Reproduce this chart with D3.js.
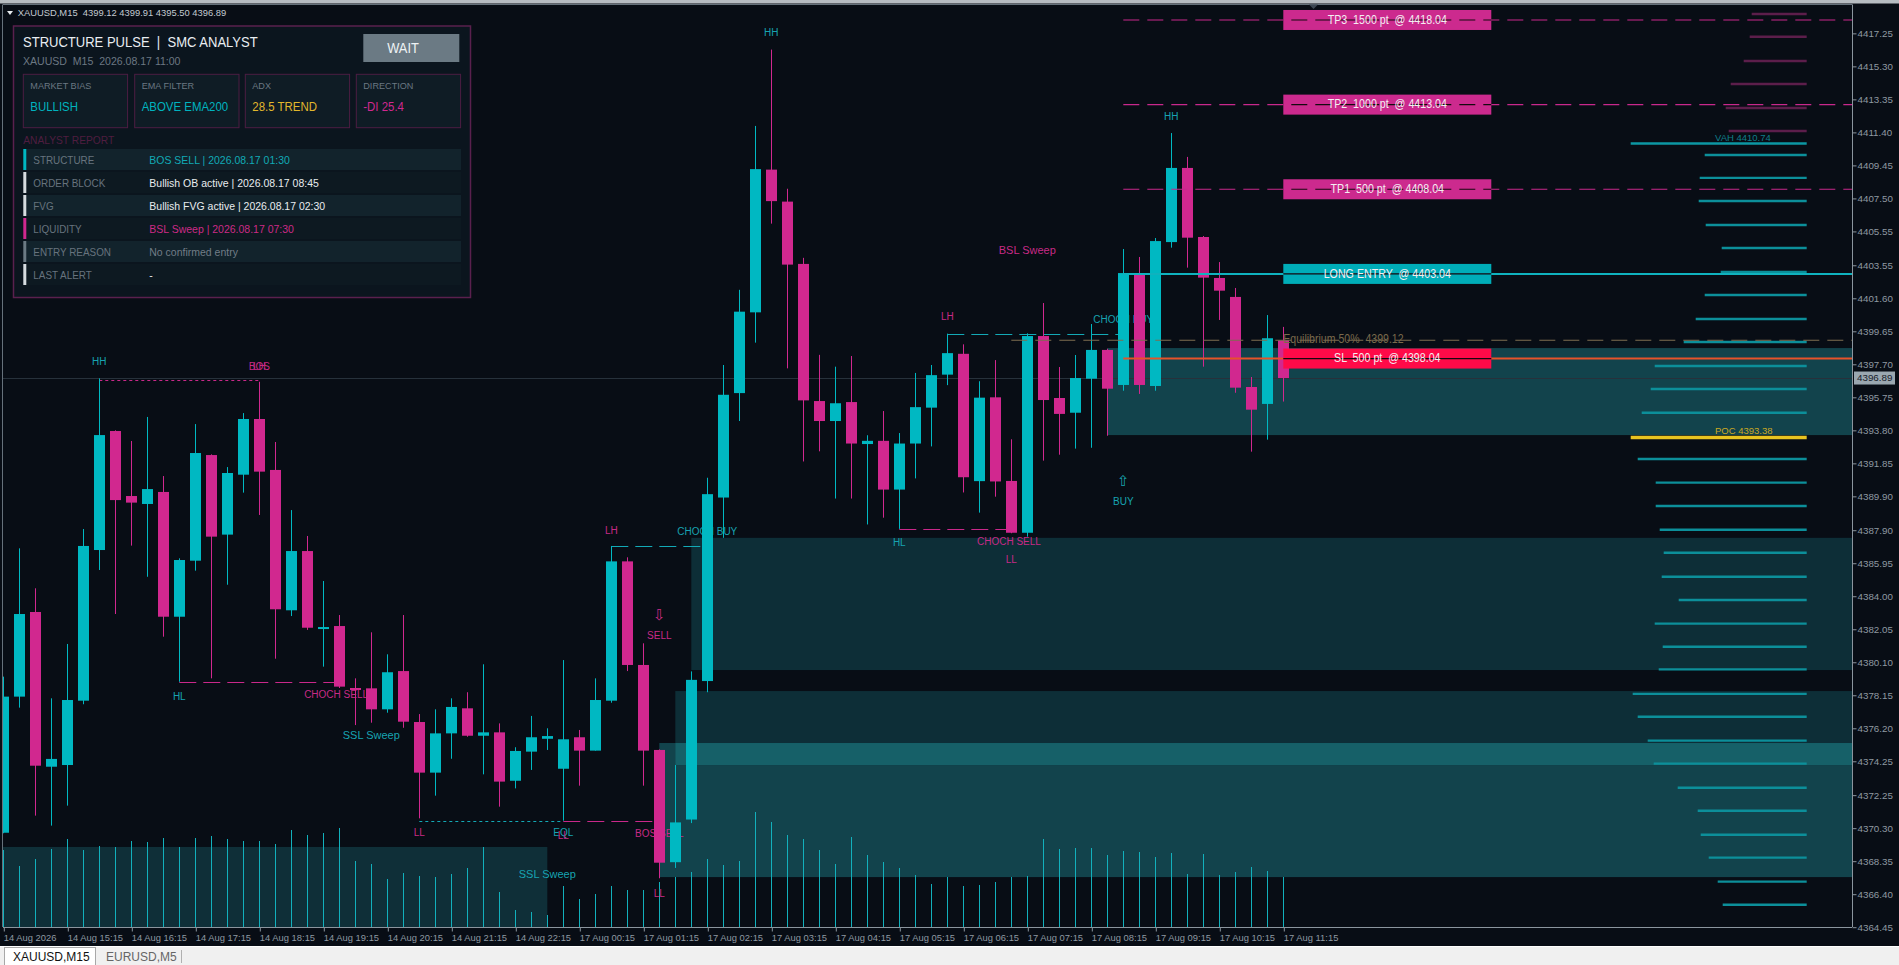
<!DOCTYPE html>
<html>
<head>
<meta charset="utf-8">
<script src="https://cdn.jsdelivr.net/npm/d3@7"></script>
<style>
html, body { margin: 0; padding: 0; background: #080d15; overflow: hidden; }
svg { display: block; font-family: "Liberation Sans", Arial, sans-serif; }
text { white-space: pre; }
</style>
</head>
<body>
<svg id="chart" width="1899" height="965" xml:space="preserve"></svg>
<script>

// candles, XAUUSD M15 (bar 0 = 14 Aug 14:15)
const opens = [4370.03,4378.07,4383.07,4373.93,4374.03,4377.83,4386.73,4393.76,4389.92,4389.45,
  4390.16,4382.79,4386.10,4392.34,4387.64,4391.18,4394.47,4391.46,4383.17,4386.67,
  4382.08,4382.24,4378.58,4378.56,4377.32,4379.58,4376.57,4373.58,4375.90,4377.38,
  4375.76,4375.96,4373.10,4374.82,4375.58,4373.81,4375.67,4374.88,4377.83,4386.06,
  4379.94,4374.92,4368.29,4370.81,4378.99,4389.83,4396.00,4400.77,4409.20,4407.31,
  4403.63,4395.53,4394.35,4395.47,4392.99,4393.18,4390.30,4393.02,4395.14,4397.09,
  4398.32,4390.80,4395.75,4390.81,4387.75,4399.37,4395.71,4394.84,4396.85,4398.55,
  4396.48,4403.09,4396.42,4404.92,4409.30,4405.22,4402.80,4401.68,4396.36,4395.36,4399.12];
const highs = [4379.25,4386.83,4384.47,4377.97,4381.18,4387.97,4396.87,4393.80,4393.17,4394.59,
  4391.10,4386.24,4394.17,4392.38,4391.63,4394.82,4396.67,4393.11,4389.09,4387.56,
  4384.90,4382.89,4379.15,4381.87,4380.57,4382.89,4377.04,4377.32,4377.97,4378.33,
  4379.98,4376.49,4375.08,4376.93,4376.20,4380.23,4376.10,4379.15,4386.97,4386.30,
  4381.22,4374.95,4374.03,4379.56,4391.00,4397.66,4402.10,4411.78,4416.29,4408.07,
  4403.99,4398.26,4397.56,4398.19,4393.51,4394.94,4393.64,4397.19,4397.66,4399.51,
  4398.88,4396.70,4397.95,4393.27,4399.53,4401.32,4397.54,4398.25,4400.08,4398.62,
  4404.51,4404.04,4405.16,4411.36,4409.95,4405.28,4403.74,4402.21,4396.95,4400.61,4399.91];
const lows = [4370.00,4377.42,4371.04,4370.45,4371.63,4377.62,4385.55,4382.95,4386.99,4385.15,
  4381.61,4378.95,4385.51,4379.15,4384.68,4390.12,4388.80,4380.31,4382.83,4382.01,
  4379.84,4378.58,4376.39,4376.53,4377.12,4376.23,4370.88,4372.22,4374.40,4375.70,
  4373.48,4371.57,4372.65,4373.74,4374.92,4370.74,4372.81,4374.88,4377.71,4379.58,
  4372.81,4367.34,4367.95,4370.60,4378.33,4387.45,4394.35,4398.98,4406.01,4397.46,
  4391.96,4392.56,4389.77,4389.77,4388.24,4388.64,4387.98,4390.96,4392.85,4396.47,
  4390.13,4388.94,4389.88,4387.72,4387.52,4392.01,4392.36,4392.72,4392.77,4393.48,
  4396.14,4395.95,4396.14,4404.59,4403.41,4397.56,4400.32,4396.02,4392.54,4393.25,4395.50];
const closes = [4378.07,4382.95,4373.99,4374.39,4377.87,4386.97,4393.52,4389.68,4389.53,4390.33,
  4382.79,4386.14,4392.46,4387.52,4391.28,4394.47,4391.36,4383.23,4386.67,4382.14,
  4382.18,4378.66,4378.55,4377.32,4379.51,4376.59,4373.58,4375.90,4377.46,4375.76,
  4375.96,4373.05,4374.86,4375.67,4375.74,4375.55,4374.88,4377.87,4386.06,4379.94,
  4374.88,4368.26,4370.64,4379.06,4390.03,4395.90,4400.81,4409.23,4407.34,4403.59,
  4395.57,4394.35,4395.40,4393.02,4393.18,4390.30,4393.02,4395.17,4397.06,4398.36,
  4391.03,4395.73,4390.78,4387.75,4399.37,4395.59,4394.77,4396.89,4398.55,4396.26,
  4403.09,4396.48,4404.98,4409.30,4405.18,4402.82,4402.05,4396.32,4395.02,4399.24,4396.89];
const tickVolume = [77,61,68,78,88,77,81,80,86,85,
  89,80,89,91,88,86,86,83,97,92,
  94,99,66,63,48,54,51,50,53,59,
  80,35,17,15,12,41,28,33,41,37,
  37,45,50,55,68,62,66,115,105,92,
  88,77,63,90,72,65,59,52,43,50,
  41,42,45,50,51,88,78,79,79,72,
  76,75,70,74,53,73,52,55,60,56,50];

// axes
const timeBars = [0,4,8,12,16,20,24,28,32,36,40,44,48,52,56,60,64,68,72,76,80];
const timeLabels = ["14 Aug 2026","14 Aug 15:15","14 Aug 16:15","14 Aug 17:15","14 Aug 18:15",
  "14 Aug 19:15","14 Aug 20:15","14 Aug 21:15","14 Aug 22:15","17 Aug 00:15","17 Aug 01:15",
  "17 Aug 02:15","17 Aug 03:15","17 Aug 04:15","17 Aug 05:15","17 Aug 06:15","17 Aug 07:15",
  "17 Aug 08:15","17 Aug 09:15","17 Aug 10:15","17 Aug 11:15"];
const priceTicks = [4417.25,4415.30,4413.35,4411.40,4409.45,4407.50,4405.55,4403.55,4401.60,4399.65,
  4397.70,4395.75,4393.80,4391.85,4389.90,4387.90,4385.95,4384.00,4382.05,4380.10,
  4378.15,4376.20,4374.25,4372.25,4370.30,4368.35,4366.40,4364.45];
const bidPrice = 4396.89;

// zones (order blocks / fvg / sweep box)
const zoneFrom = [0, 41, 42, 43, 69];
const zoneTo = [34, null, null, null, null];
const zoneHigh = [4369.19, 4375.33, 4378.40, 4387.45, 4398.66];
const zoneLow = [4363.00, 4367.41, 4374.03, 4379.64, 4393.52];
const zoneKind = ["ssl", "ob", "fvg", "fvg", "ob"];

// volume profile
const vpPrices = [4418.39,4417.05,4415.62,4414.26,4412.84,4411.48,4410.06,4408.71,4407.35,4405.93,
  4404.57,4403.15,4401.79,4400.38,4399.02,4397.60,4396.24,4394.84,4393.38,4392.11,
  4390.71,4389.33,4387.93,4386.57,4385.15,4383.78,4382.38,4381.02,4379.68,4378.23,
  4376.88,4375.47,4374.11,4372.69,4371.33,4369.91,4368.56,4367.14,4365.78];
const vpVolume = [55,57,63,76,81,78,102,107,108,101,
  85,86,102,111,123,152,156,165,176,169,
  151,151,147,143,145,128,152,144,148,174,
  169,159,153,129,109,106,98,89,84];
const vahPrice = 4410.74;
const pocPrice = 4393.38;

// structure lines
const lineFrom = [6, 11, 26, 35, 38, 56, 59];
const lineTo = [16, 21, 35, 41, 44, 63, 70];
const linePrice = [4396.76, 4378.95, 4370.74, 4370.70, 4386.97, 4387.98, 4399.51];
const lineKind = ["bearDot", "bearDash", "bullDot", "bearDash", "bullDash", "bearDash", "bullDash"];

// structure tags
const tagText = ["HH","LH","BOS","HL","CHOCH SELL","SSL Sweep","LL","EQL","LL","BOS SELL","LL","\u21E9","SELL",
  "LH","CHOCH BUY","SSL Sweep","HH","BSL Sweep","LH","HL","CHOCH SELL","LL","CHOCH BUY","HH","\u21E7","BUY"];
const tagBar = [6,16,16,11,20.8,23,26,35,35,41,41,41,41,38,44,34,48,64,59,56,62.85,63,70,73,70,70];
const tagPrice = [4397.84,4397.54,4397.54,4378.05,4378.17,4375.74,4370.01,4370.01,4369.83,4369.96,4366.41,4382.89,4381.65,
  4387.85,4387.80,4367.53,4417.27,4404.39,4400.49,4387.12,4387.20,4386.14,4400.32,4412.31,4390.75,4389.57];
const tagSide = ["bull","bear","bear","bull","bear","bull","bear","bull","bear","bear","bear","bear","bear",
  "bear","bull","bull","bull","bear","bear","bull","bear","bear","bull","bull","bull","bull"];

// trade levels
const tradeLabels = ["TP3  1500 pt  @ 4418.04", "TP2  1000 pt  @ 4413.04", "TP1  500 pt  @ 4408.04",
  "LONG ENTRY  @ 4403.04", "SL  500 pt  @ 4398.04"];
const tradePrices = [4418.04, 4413.04, 4408.04, 4403.04, 4398.04];
const tradeKind = ["tp", "tp", "tp", "entry", "sl"];
const tradeFromBar = 70;
const tradeBoxBar = 80;
const eqPrice = 4399.12;
const eqFromBar = 63;

// dashboard
const cardTitles = ["MARKET BIAS", "EMA FILTER", "ADX", "DIRECTION"];
const cardValues = ["BULLISH", "ABOVE EMA200", "28.5 TREND", "-DI 25.4"];
const reportLabels = ["STRUCTURE", "ORDER BLOCK", "FVG", "LIQUIDITY", "ENTRY REASON", "LAST ALERT"];
const reportValues = ["BOS SELL | 2026.08.17 01:30", "Bullish OB active | 2026.08.17 08:45",
  "Bullish FVG active | 2026.08.17 02:30", "BSL Sweep | 2026.08.17 07:30", "No confirmed entry", "-"];


const W = 1899, H = 965;
const plot = { left: 3, right: 1852, top: 5, bottom: 927 };
const BULL = "#00b8c2", BEAR = "#d1288f";

// the terminal font is narrower than Liberation Sans, squeeze text a bit
function squeeze(sel, sx) {
  sel.each(function () {
    const t = d3.select(this);
    const x0 = +t.attr("x") || 0, y0 = +t.attr("y") || 0;
    t.attr("x", 0).attr("y", 0).attr("transform", `translate(${x0},${y0}) scale(${sx},1)`);
  });
  return sel;
}

const svg = d3.select("#chart");
svg.append("rect").attr("width", W).attr("height", H).attr("fill", "#080d15");

const x = d3.scaleLinear().domain([0, 80]).range([3.3, 1283.3]);
const y = d3.scaleLinear().domain([4364.45, 4417.25]).range([927.2, 33.35]);
const volY = d3.scaleLinear().domain([0, 150]).range([plot.bottom, plot.bottom - 150]);
const vpRight = 1806.7;
const vpLen = d3.scaleLinear().domain([0, d3.max(vpVolume)]).range([0, 176]);

svg.append("defs").append("clipPath").attr("id", "plotClip")
  .append("rect").attr("x", plot.left).attr("y", plot.top)
  .attr("width", plot.right - plot.left).attr("height", plot.bottom - plot.top);

const g = svg.append("g").attr("clip-path", "url(#plotClip)");

// zones
const zoneFill = { ssl: "#0f2f38", ob: "#12434c", fvg: "#0d2e37" };
const zones = zoneFrom.map((f, i) => ({
  x0: i === 0 ? plot.left : x(f),
  x1: zoneTo[i] === null ? plot.right : x(zoneTo[i]),
  y0: y(zoneHigh[i]), y1: y(zoneLow[i]), kind: zoneKind[i]
}));
g.selectAll(".zone").data(zones).join("rect")
  .attr("x", d => d.x0).attr("y", d => d.y0)
  .attr("width", d => d.x1 - d.x0).attr("height", d => d.y1 - d.y0)
  .attr("fill", d => zoneFill[d.kind]);

// where two zones overlap the fill is brighter
const overlaps = [];
for (let i = 1; i < zones.length; i++) {
  for (let j = i + 1; j < zones.length; j++) {
    const a = zones[i], b = zones[j];
    const ox0 = Math.max(a.x0, b.x0), ox1 = Math.min(a.x1, b.x1);
    const oy0 = Math.max(a.y0, b.y0), oy1 = Math.min(a.y1, b.y1);
    if (ox1 > ox0 && oy1 > oy0) overlaps.push({ ox0, ox1, oy0, oy1 });
  }
}
g.selectAll(".overlap").data(overlaps).join("rect")
  .attr("x", d => d.ox0).attr("y", d => d.oy0)
  .attr("width", d => d.ox1 - d.ox0).attr("height", d => d.oy1 - d.oy0)
  .attr("fill", "#166068");

// bid line
g.append("line").attr("x1", plot.left).attr("x2", plot.right)
  .attr("y1", Math.round(y(bidPrice)) + 0.5).attr("y2", Math.round(y(bidPrice)) + 0.5)
  .attr("stroke", "#27313b");

// tick volume
g.selectAll(".vol").data(tickVolume).join("line")
  .attr("x1", (d, i) => Math.round(x(i)) + 0.5).attr("x2", (d, i) => Math.round(x(i)) + 0.5)
  .attr("y1", volY(0)).attr("y2", d => volY(d))
  .attr("stroke", "#12b0bc").attr("stroke-width", 1);

// volume profile
g.selectAll(".vp").data(vpVolume).join("line")
  .attr("x1", d => vpRight - vpLen(d)).attr("x2", vpRight)
  .attr("y1", (d, i) => y(vpPrices[i])).attr("y2", (d, i) => y(vpPrices[i]))
  .attr("stroke", (d, i) => vpPrices[i] === pocPrice ? "#e8c420" : (vpPrices[i] > vahPrice ? "#5c1e4b" : "#0c8f9a"))
  .attr("stroke-width", (d, i) => vpPrices[i] === pocPrice ? 3.5 : 2.4);
g.append("line").attr("x1", vpRight - vpLen(d3.max(vpVolume))).attr("x2", vpRight)
  .attr("y1", y(vahPrice)).attr("y2", y(vahPrice))
  .attr("stroke", "#0c97a3").attr("stroke-width", 2.4);
g.append("text").attr("x", 1715).attr("y", y(vahPrice) - 5)
  .attr("dominant-baseline", "middle").attr("font-size", 9.5).attr("fill", "#0f7e89")
  .text("VAH " + vahPrice.toFixed(2));
g.append("text").attr("x", 1715).attr("y", y(pocPrice) - 6)
  .attr("dominant-baseline", "middle").attr("font-size", 9.5).attr("fill", "#c9a824")
  .text("POC " + pocPrice.toFixed(2));

// structure lines
const dashes = { bearDot: "3,3", bullDot: "3,3", bearDash: "17,7", bullDash: "17,7" };
g.selectAll(".sline").data(linePrice).join("line")
  .attr("x1", (d, i) => x(lineFrom[i])).attr("x2", (d, i) => x(lineTo[i]))
  .attr("y1", d => Math.round(y(d)) + 0.5).attr("y2", d => Math.round(y(d)) + 0.5)
  .attr("stroke", (d, i) => lineKind[i].startsWith("bull") ? "#13a9b6" : "#c9288a")
  .attr("stroke-dasharray", (d, i) => dashes[lineKind[i]]);

// structure tags (candles are painted over them)
const isArrow = t => t === "\u21E9" || t === "\u21E7";
g.selectAll(".tag").data(tagText).join("text")
  .attr("x", (d, i) => x(tagBar[i])).attr("y", (d, i) => y(tagPrice[i]))
  .attr("text-anchor", "middle").attr("dominant-baseline", "middle")
  .attr("font-family", d => isArrow(d) ? "DejaVu Sans, sans-serif" : null)
  .attr("font-size", d => isArrow(d) ? 15 : (d.includes("Sweep") ? 11 : 10))
  .attr("fill", (d, i) => tagSide[i] === "bull" ? "#17a3b1" : "#c72a86")
  .text(d => d);

// candles
const bars = opens.map((o, i) => ({ i, o, h: highs[i], l: lows[i], c: closes[i] }));
const cg = g.append("g");
cg.selectAll(".wick").data(bars).join("line")
  .attr("x1", d => Math.round(x(d.i)) + 0.5).attr("x2", d => Math.round(x(d.i)) + 0.5)
  .attr("y1", d => y(d.h)).attr("y2", d => y(d.l))
  .attr("stroke", d => d.c > d.o ? BULL : BEAR);
cg.selectAll(".body").data(bars).join("rect")
  .attr("x", d => Math.round(x(d.i)) - 5).attr("width", 11)
  .attr("y", d => y(Math.max(d.o, d.c)))
  .attr("height", d => Math.max(2, Math.abs(y(d.o) - y(d.c))))
  .attr("fill", d => d.c > d.o ? BULL : BEAR);

// equilibrium
g.append("line").attr("x1", x(eqFromBar)).attr("x2", plot.right)
  .attr("y1", y(eqPrice)).attr("y2", y(eqPrice))
  .attr("stroke", "#7d6d50").attr("stroke-width", 1.2).attr("stroke-dasharray", "16,8");
squeeze(g.append("text").attr("x", x(tradeBoxBar)).attr("y", y(eqPrice))
  .attr("dominant-baseline", "middle").attr("font-size", 12).attr("fill", "#7a6a4c")
  .text("Equilibrium 50%  " + eqPrice.toFixed(2)), 0.88);

// trade levels
const levelColor = { tp: "#c8288c", entry: "#0fb2be", sl: "#e5532a" };
const boxColor = { tp: "#cc2a8e", entry: "#00adb8", sl: "#ff0a48" };
g.selectAll(".lvl").data(tradePrices).join("line")
  .attr("x1", x(tradeFromBar)).attr("x2", plot.right)
  .attr("y1", d => y(d)).attr("y2", d => y(d))
  .attr("stroke", (d, i) => levelColor[tradeKind[i]])
  .attr("stroke-width", (d, i) => tradeKind[i] === "tp" ? 1.2 : 2)
  .attr("stroke-dasharray", (d, i) => tradeKind[i] === "tp" ? "16,8" : null);
const boxW = 208;
const boxes = g.selectAll(".tbox").data(tradePrices).join("g")
  .attr("transform", d => `translate(${x(tradeBoxBar)},${y(d)})`);
boxes.append("rect").attr("x", 0).attr("y", -10).attr("width", boxW).attr("height", 20)
  .attr("fill", (d, i) => boxColor[tradeKind[i]]);
boxes.append("line").attr("x1", 0).attr("x2", boxW).attr("y1", 0).attr("y2", 0)
  .attr("stroke", "#14090f").attr("stroke-width", 1.2)
  .attr("stroke-dasharray", (d, i) => tradeKind[i] === "tp" ? "16,8" : null)
  .attr("stroke-dashoffset", (d, i) => tradeKind[i] === "tp" ? (x(tradeBoxBar) - x(tradeFromBar)) % 24 : 0);
squeeze(boxes.append("text").attr("x", boxW / 2).attr("y", 0.5)
  .attr("text-anchor", "middle").attr("dominant-baseline", "middle")
  .attr("font-size", 12).attr("fill", "#f4eef2")
  .text((d, i) => tradeLabels[i]), 0.89);

// frame
svg.append("rect").attr("width", W).attr("height", 3.5).attr("fill", "#b7bcc1");
svg.append("line").attr("x1", plot.left).attr("x2", plot.right).attr("y1", 4.5).attr("y2", 4.5).attr("stroke", "#66717b");
svg.append("line").attr("x1", 2.5).attr("x2", 2.5).attr("y1", 4.5).attr("y2", plot.bottom).attr("stroke", "#66717b");
svg.append("line").attr("x1", plot.right + 0.5).attr("x2", plot.right + 0.5).attr("y1", 4.5).attr("y2", plot.bottom)
  .attr("stroke", "#8b959e");
svg.append("line").attr("x1", plot.left).attr("x2", plot.right).attr("y1", plot.bottom + 0.5).attr("y2", plot.bottom + 0.5)
  .attr("stroke", "#8b959e");
svg.append("path").attr("d", "M1309,4.5 L1318,4.5 L1313.5,9 Z").attr("fill", "#3c4652");

// right price axis
const yAxis = svg.append("g").attr("transform", `translate(${plot.right + 0.5},0)`)
  .call(d3.axisRight(y).tickValues(priceTicks).tickFormat(d3.format(".2f")).tickSize(4).tickPadding(1));
yAxis.select(".domain").remove();
yAxis.selectAll("line").attr("stroke", "#8b959e");
yAxis.selectAll("text").attr("fill", "#8f99a2").attr("font-size", 9.8)
  .attr("font-family", "Liberation Sans, Arial, sans-serif");

// current price label
svg.append("rect").attr("x", 1854).attr("y", y(bidPrice) - 6.5).attr("width", 41).attr("height", 13)
  .attr("fill", "#9aa7b0");
svg.append("text").attr("x", 1857).attr("y", y(bidPrice) + 0.5).attr("dominant-baseline", "middle")
  .attr("font-size", 9.8).attr("fill", "#17202a").text(bidPrice.toFixed(2));

// bottom time axis
const xAxis = svg.append("g").attr("transform", `translate(0,${plot.bottom + 0.5})`)
  .call(d3.axisBottom(x).tickValues(timeBars).tickFormat((d, i) => timeLabels[i]).tickSize(4).tickPadding(3));
xAxis.select(".domain").remove();
xAxis.selectAll("line").attr("stroke", "#8b959e").attr("transform", "translate(0.5,0)");
xAxis.selectAll("text").attr("fill", "#8f99a2").attr("font-size", 9.4).attr("text-anchor", "start")
  .attr("dx", 0).attr("font-family", "Liberation Sans, Arial, sans-serif");

// tab bar
svg.append("rect").attr("x", 0).attr("y", 946).attr("width", W).attr("height", 19).attr("fill", "#f0f0f0");
svg.append("line").attr("x1", 0).attr("x2", W).attr("y1", 946.5).attr("y2", 946.5).attr("stroke", "#ffffff");
svg.append("rect").attr("x", 4.5).attr("y", 947.5).attr("width", 91).attr("height", 18)
  .attr("fill", "#ffffff").attr("stroke", "#a8a8a8");
svg.append("text").attr("x", 13).attr("y", 961).attr("font-size", 12).attr("fill", "#111").text("XAUUSD,M15");
svg.append("text").attr("x", 106).attr("y", 961).attr("font-size", 12).attr("fill", "#666").text("EURUSD,M5");
svg.append("line").attr("x1", 181.5).attr("x2", 181.5).attr("y1", 950).attr("y2", 963).attr("stroke", "#b0b0b0");

// top-left symbol line
svg.append("path").attr("d", "M7,11 L13,11 L10,15 Z").attr("fill", "#e8ecef");
svg.append("text").attr("x", 17.7).attr("y", 16.3).attr("font-size", 9.4).attr("fill", "#c3cad1")
  .text("XAUUSD,M15  " + [opens[80], highs[80], lows[80], closes[80]].map(v => v.toFixed(2)).join(" "));

// dashboard panel
const p = svg.append("g");
p.append("rect").attr("x", 13.5).attr("y", 26).attr("width", 457).attr("height", 271.5)
  .attr("fill", "#0b151e").attr("stroke", "#5a204e").attr("stroke-width", 1.5);
squeeze(p.append("text").attr("x", 23).attr("y", 47.3).attr("font-size", 14.8).attr("fill", "#e9eef2")
  .text("STRUCTURE PULSE  |  SMC ANALYST"), 0.88);
squeeze(p.append("text").attr("x", 23).attr("y", 65.3).attr("font-size", 11.6).attr("fill", "#6c7883")
  .text("XAUUSD  M15  2026.08.17 11:00"), 0.91);
p.append("rect").attr("x", 363.3).attr("y", 34).attr("width", 96).attr("height", 28).attr("fill", "#6b7a84");
squeeze(p.append("text").attr("x", 403).attr("y", 52.7).attr("text-anchor", "middle").attr("font-size", 14)
  .attr("fill", "#eef2f4").text("WAIT"), 0.92);

const cardX = [23.3, 134.7, 245.3, 356.3];
const cardColor = ["#00b3bf", "#00b3bf", "#e2b72c", "#d1288f"];
const cards = p.selectAll(".card").data(cardTitles).join("g")
  .attr("transform", (d, i) => `translate(${cardX[i]},74.3)`);
cards.append("rect").attr("width", 104.3).attr("height", 53.4)
  .attr("fill", "#0f1c25").attr("stroke", "#4d1d43");
squeeze(cards.append("text").attr("x", 7).attr("y", 15).attr("font-size", 9.8).attr("fill", "#6a7782").text(d => d), 0.93);
squeeze(cards.append("text").attr("x", 7).attr("y", 36.7).attr("font-size", 13).attr("fill", (d, i) => cardColor[i])
  .text((d, i) => cardValues[i]), 0.88);

squeeze(p.append("text").attr("x", 23.3).attr("y", 144).attr("font-size", 11).attr("fill", "#4f1d40")
  .text("ANALYST REPORT"), 0.93);

const accent = [BULL, "#d6dce0", "#d6dce0", BEAR, "#6b7a84", "#d6dce0"];
const valColor = ["#11aab6", "#e8ecef", "#e8ecef", "#cc2a86", "#717d87", "#e8ecef"];
const rows = p.selectAll(".row").data(reportLabels).join("g")
  .attr("transform", (d, i) => `translate(23.3,${149 + i * 23})`);
rows.append("rect").attr("x", 3).attr("width", 434.7).attr("height", 21)
  .attr("fill", (d, i) => i % 2 === 0 ? "#12232c" : "#0d1921");
rows.append("rect").attr("width", 3).attr("height", 21).attr("fill", (d, i) => accent[i]);
squeeze(rows.append("text").attr("x", 10).attr("y", 15).attr("font-size", 11.8).attr("fill", "#67737e").text(d => d), 0.84);
squeeze(rows.append("text").attr("x", 126).attr("y", 15).attr("font-size", 11.8).attr("fill", (d, i) => valColor[i])
  .text((d, i) => reportValues[i]), 0.89);

</script>
</body>
</html>
